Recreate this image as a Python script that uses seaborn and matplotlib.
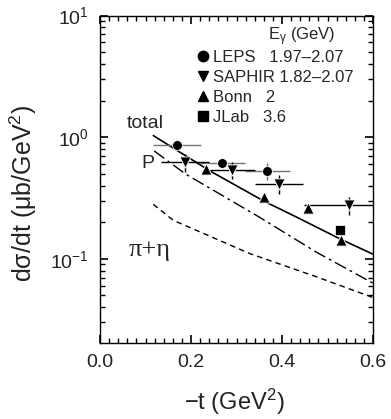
import matplotlib
matplotlib.use("Agg")
import matplotlib.pyplot as plt
import seaborn as sns
from matplotlib.ticker import MultipleLocator, LogLocator, NullFormatter, FormatStrFormatter
from matplotlib.lines import Line2D


# data (-t in GeV^2, dsigma/dt in mub/GeV^2)
leps_t = [0.169, 0.269, 0.368]
leps_y = [0.855, 0.61, 0.53]
leps_terr = [0.052, 0.05, 0.05]
leps_yerr = [0.03, 0.04, 0.085]

saphir_t = [0.187, 0.291, 0.394, 0.548]
saphir_y = [0.62, 0.54, 0.414, 0.275]
saphir_terr = [0.053, 0.05, 0.053, 0.10]
saphir_yerr = [0.10, 0.09, 0.07, 0.048]

bonn_t = [0.232, 0.36, 0.458, 0.53]
bonn_y = [0.55, 0.321, 0.263, 0.142]

jlab_t = [0.527]
jlab_y = [0.171]

# model curves
total_t = [0.117, 0.242, 0.36, 0.432, 0.527, 0.60]
total_y = [1.03, 0.526, 0.298, 0.22, 0.146, 0.109]

pom_t = [0.119, 0.187, 0.35, 0.476, 0.60]
pom_y = [0.77, 0.50, 0.22, 0.113, 0.063]

pieta_t = [0.117, 0.161, 0.33, 0.476, 0.60]
pieta_y = [0.28, 0.207, 0.110, 0.071, 0.048]

legend_labels = ["LEPS   1.97\u20132.07", "SAPHIR 1.82\u20132.07", "Bonn   2", "JLab   3.6"]


# style
sns.set_style("white")
plt.rcParams["font.family"] = ["Liberation Sans", "DejaVu Sans"]
plt.rcParams["mathtext.fontset"] = "custom"
plt.rcParams["mathtext.rm"] = "Liberation Sans"
plt.rcParams["mathtext.it"] = "Liberation Sans:italic"
plt.rcParams["mathtext.bf"] = "Liberation Sans:bold"
plt.rcParams["axes.linewidth"] = 1.0
plt.rcParams["axes.edgecolor"] = "black"
plt.rcParams["axes.axisbelow"] = False

fig = plt.figure(figsize=(3.91, 4.19), dpi=100)
ax = fig.add_axes([0.256, 0.182, 0.698, 0.781])


# curves
sns.lineplot(x=total_t, y=total_y, color="black", lw=1.2, ax=ax)
sns.lineplot(x=pom_t, y=pom_y, color="black", lw=1.0, ax=ax,
             linestyle=(0, (9, 3, 2, 3)))
sns.lineplot(x=pieta_t, y=pieta_y, color="black", lw=1.0, ax=ax,
             linestyle=(0, (4, 3)))

# error bars
ax.errorbar(leps_t, leps_y, xerr=leps_terr, yerr=leps_yerr, fmt="none",
            ecolor="0.45", elinewidth=1.0, capsize=0)
ax.errorbar(saphir_t, saphir_y, xerr=saphir_terr, yerr=saphir_yerr, fmt="none",
            ecolor="black", elinewidth=1.0, capsize=0)

# markers
sns.scatterplot(x=leps_t, y=leps_y, marker="o", s=50, color="black", ax=ax, zorder=5)
sns.scatterplot(x=saphir_t, y=saphir_y, marker="v", s=65, color="black", ax=ax, zorder=5)
sns.scatterplot(x=bonn_t, y=bonn_y, marker="^", s=65, color="black", ax=ax, zorder=5)
sns.scatterplot(x=jlab_t, y=jlab_y, marker="s", s=42, color="black", ax=ax, zorder=5)

# axes
ax.set_yscale("log")
ax.set_xlim(0, 0.6)
ax.set_ylim(0.0204, 10)
ax.xaxis.set_major_locator(MultipleLocator(0.2))
ax.xaxis.set_minor_locator(MultipleLocator(0.02))
ax.xaxis.set_major_formatter(FormatStrFormatter("%.1f"))
ax.yaxis.set_major_locator(LogLocator(base=10, numticks=10))
ax.yaxis.set_minor_locator(LogLocator(base=10, subs=range(2, 10), numticks=10))
ax.yaxis.set_minor_formatter(NullFormatter())
ax.tick_params(axis="both", which="major", direction="in", top=True, right=True,
               bottom=True, left=True, length=6, width=1.2, color="black",
               pad=8, labelsize=14, labelcolor="#222222")
ax.tick_params(axis="both", which="minor", direction="in", top=True, right=True,
               bottom=True, left=True, length=3.5, width=1.0, color="black")

ax.set_xlabel("\u2212t (GeV$^2$)", fontsize=17, color="#222222")
ax.set_ylabel("d\u03c3/dt (\u03bcb/GeV$^2$)", fontsize=18, color="#222222")
ax.xaxis.set_label_coords(0.49, -0.135)
ax.yaxis.set_label_coords(-0.225, 0.455)

# curve names
ax.text(0.099, 1.30, "total", fontsize=14, ha="center", va="center")
ax.text(0.105, 0.61, "P", fontsize=14, ha="center", va="center")
ax.text(0.108, 0.118, "\u03c0+\u03b7", fontsize=19, ha="center", va="center",
        family=["Liberation Serif", "DejaVu Serif"])

# legend
ax.text(0.74, 0.935, "E$_\\mathrm{\\gamma}$ (GeV)", fontsize=12,
        ha="center", va="center", transform=ax.transAxes)
markers = ["o", "v", "^", "s"]
handles = [Line2D([], [], marker=m, color="black", linestyle="none", markersize=7.5)
           for m in markers]
ax.legend(handles, legend_labels, loc="upper left", bbox_to_anchor=(0.36, 0.895),
          frameon=False, fontsize=12, handlelength=0.6, handletextpad=0.25,
          labelspacing=0.3, borderpad=0, borderaxespad=0)

plt.savefig("out.png", dpi=100)
